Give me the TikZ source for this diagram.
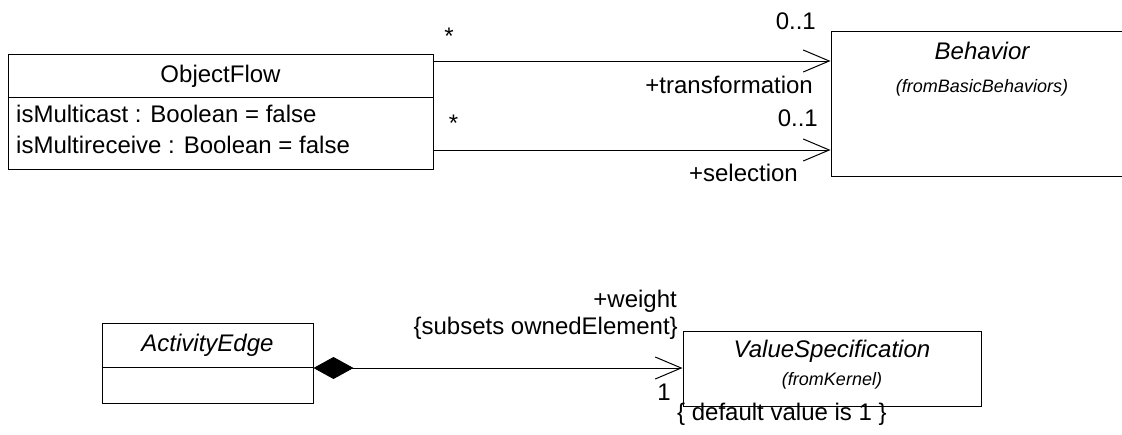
\documentclass[tikz,border=0pt]{standalone}
\usepackage{fontspec}
\setmainfont{Liberation Sans}
\usetikzlibrary{arrows.meta}
\tikzset{
    classbox/.style={rectangle, draw, line width=1pt, inner sep=0pt},
    divider/.style={draw, line width=1pt},
    lbl/.style={inner sep=0pt, font=\fontsize{24}{28}\selectfont},
    abstractname/.style={inner sep=0pt, font=\itshape\fontsize{24}{28}\selectfont},
    fromnote/.style={inner sep=0pt, font=\itshape\fontsize{18}{22}\selectfont},
    assoc/.style={draw, line width=1pt, -{Straight Barb[length=26pt, width=22pt]}},
    compose/.style={draw, line width=1pt, {Diamond[length=40pt, width=22pt]}-{Straight Barb[length=26pt, width=22pt]}}
}
\begin{document}
\begin{tikzpicture}[x=1pt, y=-1pt]
    \clip (0,0) rectangle (1122,434);
    % classes
    \node (objflow) [classbox, minimum width=425pt, minimum height=115pt] at (220.5,111.5) {};
    \node (behavior) [classbox, minimum width=302pt, minimum height=145pt] at (982,103.5) {};
    \node (actedge) [classbox, minimum width=211pt, minimum height=80pt] at (207.5,363) {};
    \node (valspec) [classbox, minimum width=298pt, minimum height=75pt] at (832,368.5) {};
    \draw [divider] (objflow.west |- 0,97) -- (objflow.east |- 0,97);
    \draw [divider] (actedge.west |- 0,367) -- (actedge.east |- 0,367);

    \node (ofname) [lbl, anchor=base] at (220.5,82) {ObjectFlow};
    \node (ofmcast) [lbl, anchor=base west] at (16,122) {isMulticast : Boolean = false};
    \node (ofmrecv) [lbl, anchor=base west] at (16,153) {isMultireceive : Boolean = false};
    \node (bhname) [abstractname, anchor=base] at (982,59) {Behavior};
    \node (bhfrom) [fromnote, anchor=base] at (982,92) {(fromBasicBehaviors)};
    \node (aename) [abstractname, anchor=base] at (207.5,351) {ActivityEdge};
    \node (vsname) [abstractname, anchor=base] at (832,357) {ValueSpecification};
    \node (vsfrom) [fromnote, anchor=base] at (832,385) {(fromKernel)};

    % associations
    \draw [assoc] (objflow.east |- 0,61) -- (behavior.west |- 0,61);
    \draw [assoc] (objflow.east |- 0,150) -- (behavior.west |- 0,150);
    \draw [compose] (actedge.east |- 0,368) -- (valspec.west |- 0,368);

    % ends
    \node (trsrc) [lbl, anchor=base] at (449,44) {*};
    \node (trmult) [lbl, anchor=base east] at (816,29) {0..1};
    \node (trrole) [lbl, anchor=base east] at (813,93) {+transformation};
    \node (selsrc) [lbl, anchor=base] at (453.5,131) {*};
    \node (selmult) [lbl, anchor=base east] at (818,126) {0..1};
    \node (selrole) [lbl, anchor=base east] at (798,181) {+selection};
    \node (wrole) [lbl, anchor=base east] at (677,307) {+weight};
    \node (wsubset) [lbl, anchor=base east] at (678,334) {\{subsets ownedElement\}};
    \node (wmult) [lbl, anchor=base] at (664,400) {1};
    \node (wdefault) [lbl, anchor=base west] at (677,420) {\{ default value is 1 \}};
\end{tikzpicture}
\end{document}
